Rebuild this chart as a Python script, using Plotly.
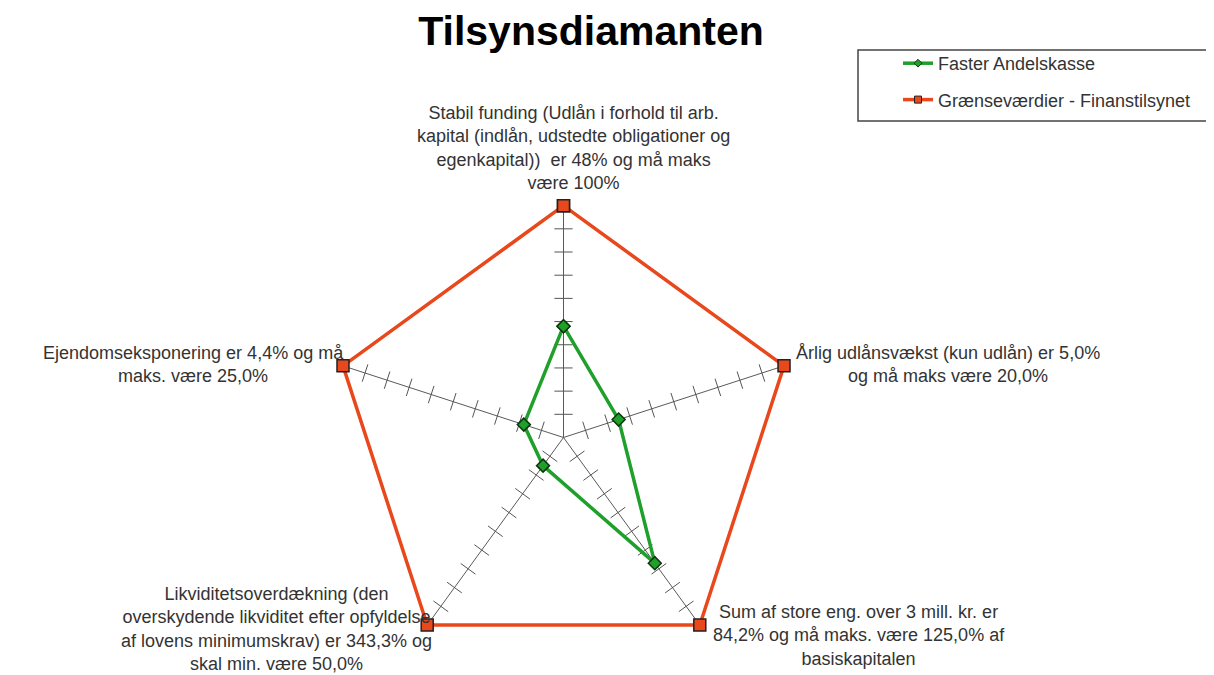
import plotly.graph_objects as go

# Axes of the diamond, clockwise from the top
categories = [
    "Stabil funding",
    "Årlig udlånsvækst",
    "Store engagementer",
    "Likviditetsoverdækning",
    "Ejendomseksponering",
]

# Share of the limit (limit = 1.0)
faster_values = [0.48, 0.25, 0.67, 0.15, 0.18]
limit_values = [1.0, 1.0, 1.0, 1.0, 1.0]

# Tick marks on each spoke
tick_vals = [0.1, 0.2, 0.3, 0.4, 0.5, 0.6, 0.7, 0.8, 0.9]

labels = [
    "Stabil funding (Udlån i forhold til arb.<br>kapital (indlån, udstedte obligationer og<br>egenkapital))  er 48% og må maks<br>være 100%",
    "Årlig udlånsvækst (kun udlån) er 5,0%<br>og må maks være 20,0%",
    "Sum af store eng. over 3 mill. kr. er<br>84,2% og må maks. være 125,0% af<br>basiskapitalen",
    "Likviditetsoverdækning (den<br>overskydende likviditet efter opfyldelse<br>af lovens minimumskrav) er 343,3% og<br>skal min. være 50,0%",
    "Ejendomseksponering er 4,4% og må<br>maks. være 25,0%",
]

W, H = 1214, 675
GREEN = "#1fa02a"
RED = "#e8481c"
FONT = "Liberation Sans, Arial, sans-serif"


def px(x):
    return x / W


def py(y):
    return 1 - y / H


fig = go.Figure()

# tick marks: short lines across each spoke
tick_theta, tick_r, tick_angle = [], [], []
for i, cat in enumerate(categories):
    for t in tick_vals:
        tick_theta.append(cat)
        tick_r.append(t)
        tick_angle.append(i * 360 / len(categories))
fig.add_trace(go.Scatterpolar(
    r=tick_r, theta=tick_theta, mode="markers",
    marker=dict(symbol="line-ew", size=13, angle=tick_angle,
                line=dict(color="#555555", width=1)),
    showlegend=False, hoverinfo="skip", cliponaxis=False,
))

fig.add_trace(go.Scatterpolar(
    r=faster_values + faster_values[:1], theta=categories + categories[:1],
    mode="lines+markers", name="Faster Andelskasse",
    line=dict(color=GREEN, width=3.5),
    marker=dict(symbol="diamond", size=10, color=GREEN,
                line=dict(color="#113311", width=1.5)),
    showlegend=False, cliponaxis=False,
))
fig.add_trace(go.Scatterpolar(
    r=limit_values + limit_values[:1], theta=categories + categories[:1],
    mode="lines+markers", name="Grænseværdier - Finanstilsynet",
    line=dict(color=RED, width=3.5),
    marker=dict(symbol="square", size=12, color=RED,
                line=dict(color="#222222", width=1.5)),
    showlegend=False, cliponaxis=False,
))

# legend-only entries with the small markers of the original legend
fig.add_trace(go.Scatterpolar(
    r=[None], theta=[categories[0]], mode="lines+markers",
    name="Faster Andelskasse", legendgroup="a",
    line=dict(color=GREEN, width=3.5),
    marker=dict(symbol="diamond", size=6, color=GREEN,
                line=dict(color="#113311", width=1)),
))
fig.add_trace(go.Scatterpolar(
    r=[None], theta=[categories[0]], mode="lines+markers",
    name="Grænseværdier - Finanstilsynet", legendgroup="b",
    line=dict(color=RED, width=3.5),
    marker=dict(symbol="square", size=7, color=RED,
                line=dict(color="#222222", width=1)),
))

annotations = [
    dict(x=px(565), y=py(187), xanchor="center", yanchor="bottom", text=labels[0]),
    dict(x=px(786), y=py(356), xanchor="left", yanchor="middle", text=labels[1]),
    dict(x=px(703), y=py(592), xanchor="left", yanchor="top", text=labels[2]),
    dict(x=px(426), y=py(574), xanchor="right", yanchor="top", text=labels[3]),
    dict(x=px(338), y=py(356), xanchor="right", yanchor="middle", text=labels[4]),
]
for a in annotations:
    a.update(xref="paper", yref="paper", showarrow=False, align="center",
             font=dict(family=FONT, size=18, color="#333333"))

fig.update_layout(
    width=W, height=H,
    margin=dict(l=0, r=0, t=0, b=0),
    paper_bgcolor="white",
    title=dict(text="<b>Tilsynsdiamanten</b>", x=px(583), xanchor="center",
               y=py(23), yanchor="middle", yref="container",
               font=dict(family=FONT, size=41, color="black")),
    polar=dict(
        domain=dict(x=[px(319), px(792)], y=[py(666), py(193)]),
        bgcolor="white",
        gridshape="linear",
        angularaxis=dict(rotation=90, direction="clockwise",
                         showline=False, showticklabels=False, ticks="",
                         showgrid=True, gridcolor="#5a5a5a", gridwidth=1),
        radialaxis=dict(range=[0, 1.02], showline=False, showticklabels=False,
                        ticks="", showgrid=False),
    ),
    showlegend=True,
    legend=dict(x=px(890), y=py(37), xanchor="left", yanchor="top",
                bgcolor="rgba(0,0,0,0)", borderwidth=0,
                tracegroupgap=10,
                font=dict(family=FONT, size=18, color="#333333")),
    annotations=annotations,
    shapes=[dict(type="rect", xref="paper", yref="paper",
                 x0=px(850), x1=px(1200), y0=py(113), y1=py(42),
                 line=dict(color="#444444", width=1.5))],
)

fig.write_html("out.html")
